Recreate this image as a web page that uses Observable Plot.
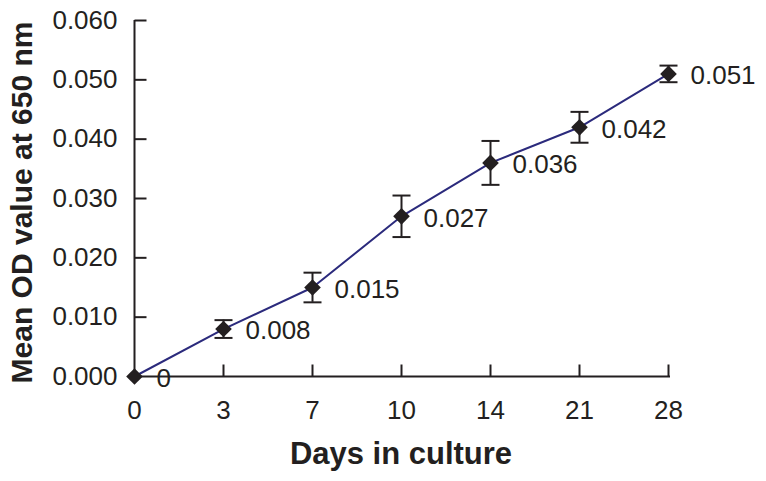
<!DOCTYPE html>
<html>
<head>
<meta charset="utf-8">
<script src="https://cdn.jsdelivr.net/npm/d3@7"></script>
<script src="https://cdn.jsdelivr.net/npm/@observablehq/plot@0.6"></script>
<style>
  html, body { margin: 0; padding: 0; background: #fff; }
</style>
</head>
<body>
<div id="chart"></div>
<script>
const days = ["0", "3", "7", "10", "14", "21", "28"];
const means = [0, 0.008, 0.015, 0.027, 0.036, 0.042, 0.051];
const errors = [0, 0.0015, 0.0025, 0.0035, 0.0037, 0.0026, 0.0014];
const valueLabels = ["0", "0.008", "0.015", "0.027", "0.036", "0.042", "0.051"];
const yTicks = [0, 0.01, 0.02, 0.03, 0.04, 0.05, 0.06];
const xTitle = "Days in culture";
const yTitle = "Mean OD value at 650 nm";

const data = days.map((d, i) => ({day: d, mean: means[i], err: errors[i], label: valueLabels[i]}));
const withErr = data.filter(d => d.err > 0);

const ink = "#231f20";
const capSymbol = {draw(ctx) { ctx.moveTo(-9, 0); ctx.lineTo(9, 0); }};
const yTickSymbol = {draw(ctx) { ctx.moveTo(0, 0); ctx.lineTo(12, 0); }};
const xTickSymbol = {draw(ctx) { ctx.moveTo(0, 0); ctx.lineTo(0, -12); }};

const chart = Plot.plot({
  width: 766,
  height: 481,
  marginLeft: 131,
  marginRight: 96,
  marginTop: 20,
  marginBottom: 105,
  style: {fontFamily: "'Liberation Sans', Arial, Helvetica, sans-serif", fontSize: "26px", color: ink, background: "#fff"},
  x: {type: "point", domain: days, padding: 0},
  y: {domain: [0, 0.06], ticks: yTicks, tickFormat: d3.format(".3f")},
  marks: [
    Plot.axisY({ticks: yTicks, tickFormat: d3.format(".3f"), tickSize: 0, tickPadding: 14, fontSize: 26, label: null}),
    Plot.axisX({tickSize: 0, tickPadding: 24, fontSize: 26, label: null}),
    Plot.ruleX([days[0]], {x: d => d, stroke: ink, strokeWidth: 2}),
    Plot.ruleY([0], {y: d => d, stroke: ink, strokeWidth: 2}),
    Plot.dot(yTicks.slice(1), {x: () => days[0], y: d => d, symbol: yTickSymbol, r: 1, fill: "none", stroke: ink, strokeWidth: 2}),
    Plot.dot(days.slice(1), {x: d => d, y: () => 0, symbol: xTickSymbol, r: 1, fill: "none", stroke: ink, strokeWidth: 2}),
    Plot.ruleX(withErr, {x: "day", y1: d => d.mean - d.err, y2: d => d.mean + d.err, stroke: ink, strokeWidth: 2}),
    Plot.dot(withErr, {x: "day", y: d => d.mean + d.err, symbol: capSymbol, r: 1, fill: "none", stroke: ink, strokeWidth: 2}),
    Plot.dot(withErr, {x: "day", y: d => d.mean - d.err, symbol: capSymbol, r: 1, fill: "none", stroke: ink, strokeWidth: 2}),
    Plot.line(data, {x: "day", y: "mean", stroke: "#2b2a7c", strokeWidth: 2}),
    Plot.dot(data, {x: "day", y: "mean", symbol: "diamond2", r: 7.5, fill: ink, stroke: "none"}),
    Plot.text(data, {x: "day", y: "mean", text: "label", dx: 22, dy: 2, textAnchor: "start", fontSize: 26, fill: ink}),
    Plot.text([yTitle], {text: d => d, frameAnchor: "left", rotate: -90, dx: -109, dy: 4, textAnchor: "middle", lineAnchor: "middle", fontSize: 30, fontWeight: "bold", fill: ink}),
    Plot.text([xTitle], {text: d => d, frameAnchor: "bottom", dx: 0, dy: 78, textAnchor: "middle", lineAnchor: "middle", fontSize: 31, fontWeight: "bold", fill: ink})
  ]
});

document.getElementById("chart").appendChild(chart);
</script>
</body>
</html>
